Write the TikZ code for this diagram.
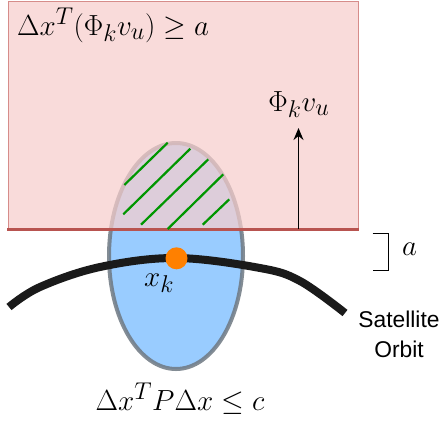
\documentclass[tikz,border=0pt]{standalone}
\usepackage{graphicx}
\usepackage{fontspec}
\newfontfamily\satfont{Liberation Sans}
\usetikzlibrary{arrows.meta}
\definecolor{pinkfill}{HTML}{F8CECC}
\definecolor{rectborder}{RGB}{214,140,138}
\definecolor{redline}{RGB}{184,84,80}
\definecolor{bluefill}{HTML}{99CCFF}
\definecolor{ellgray}{RGB}{110,120,130}
\definecolor{hatch}{RGB}{0,150,0}
\definecolor{orbit}{RGB}{26,26,26}
\definecolor{dotorange}{RGB}{255,128,0}
\newcommand{\bigmath}[1]{\scalebox{1.17}{\Huge$#1$}}
\begin{document}
\begin{tikzpicture}[x=1pt,y=-1pt,
  mathlabel/.style={inner sep=0pt},
  satlabel/.style={font=\satfont\fontsize{22.8}{30}\selectfont, inner sep=0pt, align=center},
  hatchline/.style={draw=hatch, line width=2.2pt},
  orbitline/.style={draw=orbit, line width=8pt},
  bracketline/.style={draw=black, line width=1pt}]
\useasboundingbox (0,0) rectangle (441,424);
\fill[white] (0,0) rectangle (441,424);
% ellipse
\draw[fill=bluefill, draw=ellgray, draw opacity=0.85, line width=4pt] (176,256) ellipse [x radius=67, y radius=113];
% half-space rectangle
\fill[pinkfill, fill opacity=0.72] (8,1) rectangle (358.5,229);
\draw[rectborder, line width=1pt] (8,229) -- (8,1) -- (358.5,1) -- (358.5,229);
\draw[redline, line width=3pt] (7,229) -- (358.5,229);
% hatch
\draw[hatchline] (124.3,185) -- (167.7,142.7);
\draw[hatchline] (123.3,214.3) -- (190.3,148.7);
\draw[hatchline] (141,224.7) -- (208.3,159.3);
\draw[hatchline] (167.7,229) -- (223.3,174.3);
\draw[hatchline] (202.7,224.7) -- (229.3,199.3);
% orbit
\draw[orbitline] plot[smooth, tension=0.6] coordinates {(9,307) (40,287) (100,267) (176,258) (260,268) (300,281) (345,313)};
% state dot
\node[circle, fill=dotorange, minimum size=22pt, inner sep=0pt] (xk) at (176.5,258.3) {};
\node[mathlabel, anchor=base west] (xklabel) at (144,286) {\bigmath{x_k}};
% labels
\node[mathlabel, anchor=base west] (halfspace) at (17,35) {\bigmath{\Delta x^T(\Phi_k v_u) \geq a}};
\node[mathlabel, anchor=base] (phi) at (299,111) {\bigmath{\Phi_k v_u}};
\coordinate (arrowbase) at (298.5,229);
\coordinate (arrowtip) at (298.5,128);
\draw[-{Stealth[length=12pt,width=10pt]}, line width=1.5pt] (arrowbase) -- (arrowtip);
\node[mathlabel, anchor=base] (ellipselabel) at (180,410) {\bigmath{\Delta x^T P \Delta x \leq c}};
% bracket a
\coordinate (b1) at (372.5,233);
\coordinate (b2) at (388,233);
\coordinate (b3) at (388,270);
\coordinate (b4) at (372.5,270);
\draw[bracketline] (b1) -- (b2) -- (b3) -- (b4);
\node[mathlabel, anchor=base west] (alabel) at (402,255) {\bigmath{a}};
\node[satlabel] (sat) at (399,334) {Satellite\\Orbit};
\end{tikzpicture}
\end{document}
